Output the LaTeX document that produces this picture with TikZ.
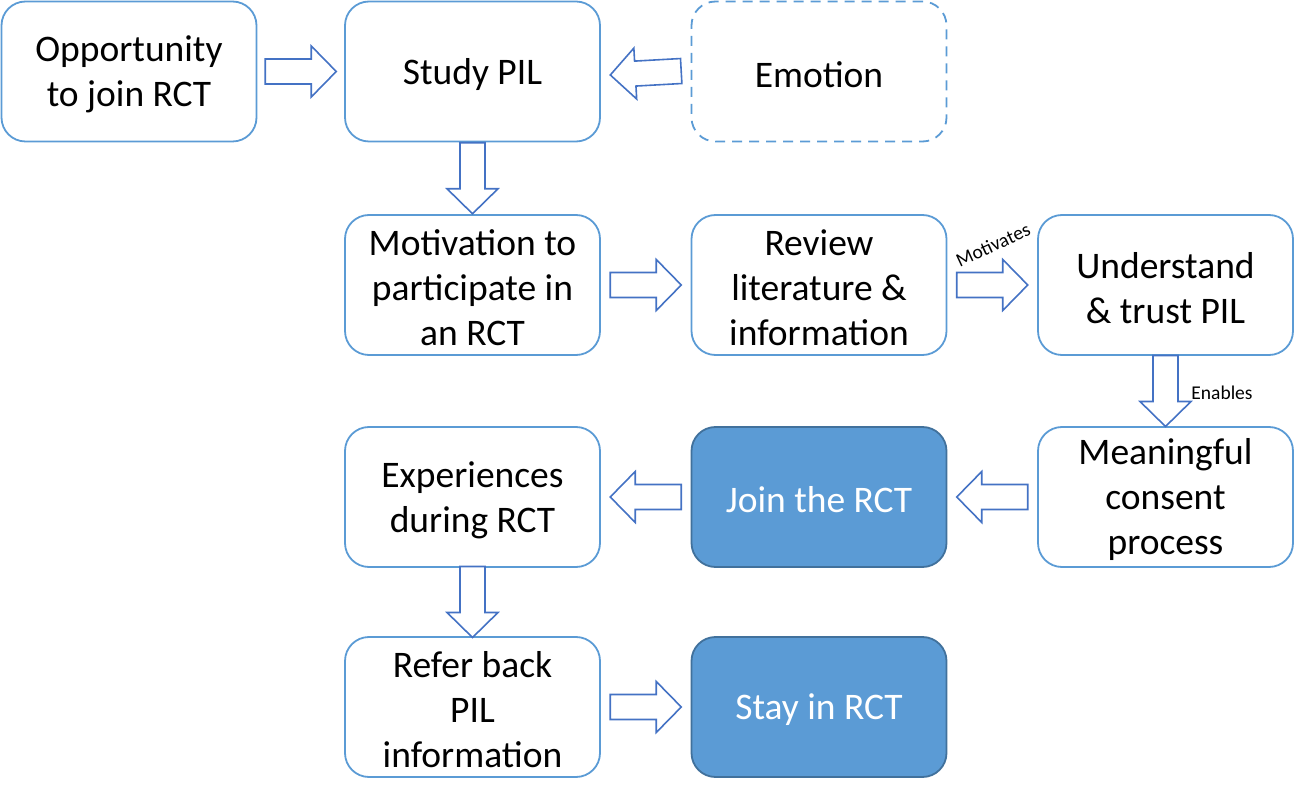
\documentclass[tikz,border=0pt]{standalone}
\usepackage{fontspec}
\setmainfont{Carlito}
\usetikzlibrary{calc}
\definecolor{boxline}{HTML}{5B9BD5}
\definecolor{arrline}{HTML}{4472C4}
\definecolor{fillbox}{HTML}{5B9BD5}
\definecolor{fillline}{HTML}{41719C}
\tikzset{
  boxtext/.style={align=center, inner sep=0pt, yshift=-3pt,
    font=\fontsize{37.5}{45}\selectfont, text=black},
  whitetext/.style={boxtext, text=white},
  flowbox/.style={draw=boxline, line width=1.8pt, rounded corners=24pt,
    minimum width=255pt, minimum height=140pt, inner sep=0pt,
    label={[boxtext]center:{#1}}},
  dashbox/.style={flowbox={#1}, dash pattern=on 10pt off 7pt},
  filledbox/.style={draw=fillline, line width=1.8pt, rounded corners=24pt,
    minimum width=255pt, minimum height=140pt, inner sep=0pt, fill=fillbox,
    label={[whitetext]center:{#1}}},
  barrowst/.style={draw=arrline, line width=1.6pt, fill=white, line join=miter},
  smalllabel/.style={font=\fontsize{19.5}{22}\selectfont, inner sep=0pt}
}
\newcommand{\blockarrow}[2]{%
  \coordinate (bm) at ($(#1)!0.5!(#2)$);
  \coordinate (bs) at ($(bm)!35.5pt!(#1)$);
  \coordinate (be) at ($(bm)!35.5pt!(#2)$);
  \coordinate (bh) at ($(be)!25pt!(bs)$);
  \draw[barrowst] ($(bs)!12.5pt!90:(be)$) -- ($(bh)!12.5pt!90:(be)$)
    -- ($(bh)!25.5pt!90:(be)$) -- (be) -- ($(bh)!25.5pt!-90:(be)$)
    -- ($(bh)!12.5pt!-90:(be)$) -- ($(bs)!12.5pt!-90:(be)$) -- cycle;
}
\begin{document}
\begin{tikzpicture}[x=1pt,y=-1pt]
\useasboundingbox (0,0) rectangle (1294,799);
% row 1
\node[flowbox={Opportunity\\to join RCT}] (opp) at (129,71.5) {};
\node[flowbox={Study PIL}] (study) at (472.5,71.5) {};
\node[dashbox={Emotion}] (emo) at (819,71.5) {};
% row 2
\node[flowbox={Motivation to\\participate in\\an RCT}] (motiv) at (472.5,285) {};
\node[flowbox={Review\\literature \&\\information}] (review) at (819,285) {};
\node[flowbox={Understand\\\& trust PIL}] (under) at (1165.5,285) {};
% row 3
\node[flowbox={Experiences\\during RCT}] (exper) at (472.5,497) {};
\node[filledbox={Join the RCT}] (join) at (819,497) {};
\node[flowbox={Meaningful\\consent\\process}] (mean) at (1165.5,497) {};
% row 4
\node[flowbox={Refer back\\PIL\\information}] (refer) at (472.5,707) {};
\node[filledbox={Stay in RCT}] (stay) at (819,707) {};
% arrows
\blockarrow{opp.east}{study.west}
\blockarrow{$(emo.west)+(0,-1)$}{$(study.east)+(0,4)$}
\blockarrow{study.south}{motiv.north}
\blockarrow{motiv.east}{review.west}
\blockarrow{review.east}{under.west}
\blockarrow{under.south}{mean.north}
\blockarrow{mean.west}{join.east}
\blockarrow{join.west}{exper.east}
\blockarrow{exper.south}{refer.north}
\blockarrow{refer.east}{stay.west}
% labels
\node[smalllabel, rotate=25] (motlab) at (993,245) {Motivates};
\node[smalllabel] (enlab) at (1222,393) {Enables};
\end{tikzpicture}
\end{document}
